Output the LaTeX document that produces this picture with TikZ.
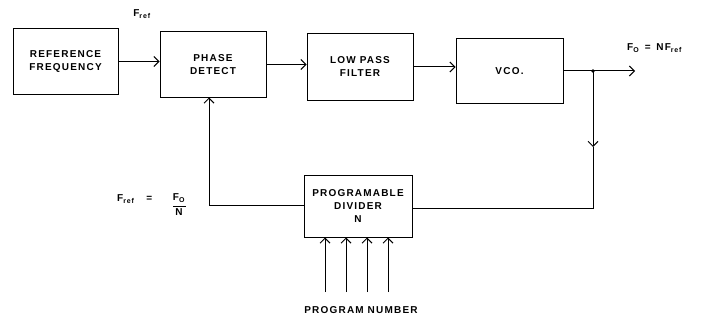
\documentclass[tikz,border=0pt]{standalone}
\usepackage{fontspec}
\newfontfamily\plotfont[LetterSpace=12]{Liberation Sans}
\usetikzlibrary{arrows.meta}
\begin{document}
\begin{tikzpicture}[x=1pt,y=-1pt,
 blk/.style={draw, line width=1pt, inner sep=0pt, align=center, font=\plotfont\bfseries\fontsize{10}{13}\selectfont},
 wire/.style={line width=1pt},
 arr/.style={wire, -{Straight Barb[length=5pt,width=10pt,line width=1pt]}},
 lbl/.style={inner sep=0pt, font=\plotfont\bfseries\fontsize{10}{11}\selectfont}]
\useasboundingbox (0,0) rectangle (707,321);
% blocks
\node[blk, minimum width=105pt, minimum height=65pt] (ref) at (65.5,61.5) {REFERENCE\\FREQUENCY};
\node[blk, minimum width=106pt, minimum height=65pt] (pd) at (213,64.5) {PHASE\\DETECT};
\node[blk, minimum width=106pt, minimum height=66pt] (lpf) at (360,67) {LOW PASS\\FILTER};
\node[blk, minimum width=107pt, minimum height=65pt] (vco) at (509.5,71) {VCO.};
\node[blk, minimum width=108pt, minimum height=62pt] (div) at (358,206) {PROGRAMABLE\\DIVIDER\\N};
% forward path
\draw[arr] (ref.east) -- (ref.east -| pd.west);
\draw[arr] (pd.east) -- (pd.east -| lpf.west);
\draw[arr] (lpf.east) -- (lpf.east -| vco.west);
\coordinate (j) at (593,71);
\coordinate (out) at (635,71);
\draw[wire] (vco.east) -- (j);
\draw[arr] (j) -- (out);
\fill (j) circle (1.8pt);
% feedback
\coordinate (mid) at (593,147);
\coordinate (corner) at (593,208);
\draw[arr] (j) -- (mid);
\draw[wire] (mid) -- (corner) -- (div.east |- corner);
\coordinate (fb) at (209,205);
\draw[arr] (div.west |- fb) -- (fb) -- (fb |- pd.south);
% program number inputs
\foreach \i/\x in {1/325,2/346,3/367,4/388} {
  \coordinate (p\i) at (\x,292);
  \draw[arr] (p\i) -- (p\i |- div.south);
}
\node[lbl] (pn) at (361,310) {PROGRAM NUMBER};
% labels
\node[lbl] (fref) at (142,14) {F\textsubscript{ref}};
\node[lbl, anchor=west] (fo) at (627,48) {F\textsubscript{O}\, =\, NF\textsubscript{ref}};
\node[lbl, anchor=west] (fb1) at (117,199) {F\textsubscript{ref}\hspace{12pt}=};
\node[lbl] (fb2) at (179,198) {F\textsubscript{O}};
\node[lbl] (fb3) at (179,212) {N};
\draw[line width=0.8pt] (173,206) -- (186,206);
\end{tikzpicture}
\end{document}
